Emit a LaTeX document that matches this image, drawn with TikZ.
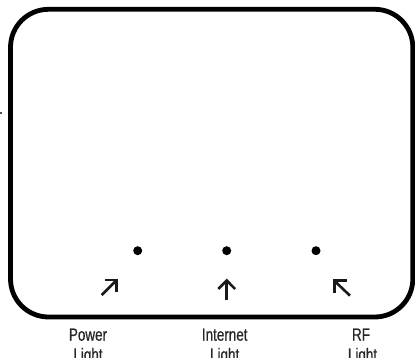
\documentclass[tikz,border=0pt]{standalone}
\usepackage{fontspec}
\newfontfamily\labelfont[FakeStretch=0.76,FakeBold=0.6]{Liberation Sans}
\begin{document}
\begin{tikzpicture}[x=1pt,y=-1pt,
  frame/.style={line width=4.8pt, rounded corners=38pt},
  led/.style={circle, fill=black, inner sep=0pt, minimum size=9pt},
  pointer/.style={line width=2.6pt, black!90, line cap=butt, line join=miter},
  lbl/.style={anchor=base, inner sep=0pt, text=black!85, font=\labelfont\fontsize{17.7}{20}\selectfont}]
\useasboundingbox (0,0) rectangle (415,358);
% device outline
\draw[frame] (10.5,9.3) rectangle (412.8,317);
% small mark at the left edge
\fill[black!70] (0,112.5) rectangle (1.5,114.2);
% indicator dots
\node[led] (dp) at (137.7,250.7) {};
\node[led] (di) at (226.7,250.7) {};
\node[led] (dr) at (316,250.7) {};
% pointer arrows
\draw[pointer] (101.7,295) -- (116.7,280);
\draw[pointer] (105,280) -- (116.7,280) -- (116.7,291.7);
\draw[pointer] (226.7,300) -- (226.7,280.5);
\draw[pointer] (218.3,289) -- (226.7,280.5) -- (235.1,289);
\draw[pointer] (350,295.7) -- (334.3,280.7);
\draw[pointer] (346.7,280.7) -- (334.3,280.7) -- (334.3,292.5);
% labels
\node[lbl] (p1) at (88,340.7) {Power};
\node[lbl] (p2) at (88,360.7) {Light};
\node[lbl] (i1) at (224.7,340.7) {Internet};
\node[lbl] (i2) at (224.7,360.7) {Light};
\node[lbl] (r1) at (361,340.7) {RF};
\node[lbl] (r2) at (362.5,360.7) {Light};
\end{tikzpicture}
\end{document}
